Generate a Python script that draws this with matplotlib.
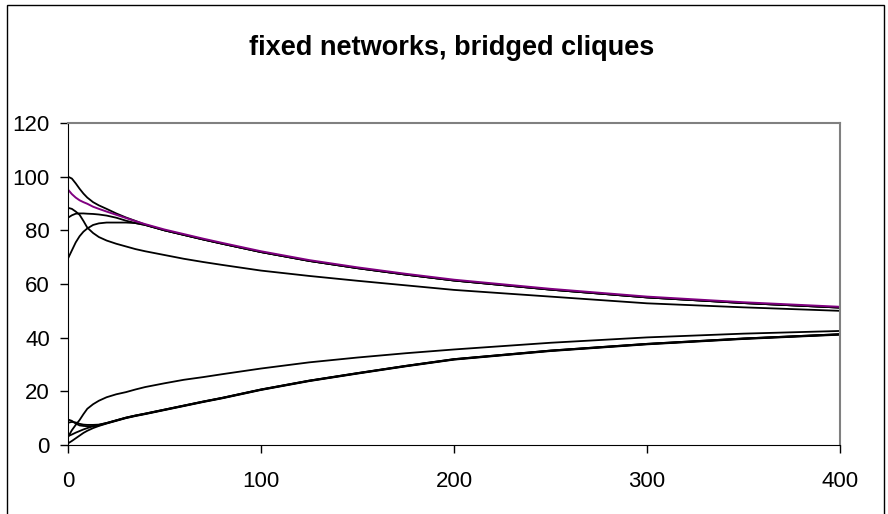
import matplotlib
matplotlib.use("Agg")
import matplotlib.pyplot as plt
from matplotlib.patches import Rectangle

plt.rcParams['font.family'] = ['Liberation Sans', 'DejaVu Sans']

# x values (steps) shared by all series
steps = [0, 2, 4, 6, 8, 10, 13, 16, 20, 25, 30, 35, 40, 50, 60, 70, 80,
         100, 125, 150, 175, 200, 250, 300, 350, 400]

# upper group
purple = [95.2, 93.5, 92.2, 91.2, 90.5, 89.9, 88.8, 88.0, 87.0, 85.8, 84.6, 83.4, 82.3,
          80.3, 78.6, 76.9, 75.3, 72.2, 68.9, 66.2, 63.8, 61.6, 58.2, 55.3, 53.2, 51.5]
up_a = [100.0, 99.3, 97.5, 95.5, 93.7, 92.2, 90.5, 89.3, 88.0, 86.3, 84.8, 83.5, 82.1,
        80.0, 78.3, 76.6, 75.0, 71.9, 68.6, 65.9, 63.5, 61.3, 57.9, 55.0, 52.9, 51.2]
up_b = [88.4, 88.0, 87.0, 85.8, 83.5, 81.0, 79.0, 77.5, 76.2, 75.0, 74.0, 73.0, 72.2,
        70.8, 69.4, 68.2, 67.1, 65.0, 63.0, 61.2, 59.5, 57.8, 55.3, 52.8, 51.3, 50.0]
up_c = [84.7, 85.6, 86.2, 86.3, 86.3, 86.2, 86.1, 85.9, 85.5, 84.7, 83.6, 82.7, 82.0,
        80.0, 78.3, 76.6, 75.0, 71.9, 68.6, 65.9, 63.5, 61.3, 57.9, 55.0, 52.9, 51.2]
up_d = [69.5, 72.5, 75.5, 77.8, 79.5, 80.7, 82.0, 82.6, 82.9, 82.9, 82.9, 82.7, 82.0,
        80.0, 78.3, 76.6, 75.0, 71.9, 68.6, 65.9, 63.5, 61.3, 57.9, 55.0, 52.9, 51.2]

# lower group
low_e = [3.0, 5.5, 7.5, 9.3, 11.5, 13.5, 15.2, 16.5, 17.8, 18.9, 19.7, 20.7, 21.6,
         23.0, 24.3, 25.3, 26.4, 28.5, 30.8, 32.6, 34.2, 35.6, 38.1, 40.1, 41.5, 42.5]
low_f1 = [0.6, 1.5, 2.5, 3.5, 4.5, 5.3, 6.3, 7.1, 8.0, 9.0, 10.0, 10.8, 11.5,
          13.0, 14.5, 16.0, 17.4, 20.5, 23.8, 26.6, 29.3, 31.8, 35.0, 37.5, 39.5, 41.1]
low_f2 = [3.3, 3.9, 4.6, 5.2, 5.8, 6.3, 7.0, 7.5, 8.2, 9.2, 10.2, 11.0, 11.7,
          13.2, 14.7, 16.2, 17.6, 20.7, 24.0, 26.8, 29.5, 32.0, 35.2, 37.7, 39.7, 41.3]
low_f3 = [9.5, 9.0, 8.0, 7.3, 7.1, 7.0, 7.0, 7.3, 8.1, 9.1, 10.1, 10.9, 11.6,
          13.1, 14.6, 16.1, 17.5, 20.6, 23.9, 26.7, 29.4, 31.9, 35.1, 37.6, 39.6, 41.2]
low_f4 = [8.3, 8.6, 8.4, 7.9, 7.6, 7.5, 7.5, 7.6, 8.2, 9.2, 10.2, 11.0, 11.7,
          13.2, 14.7, 16.2, 17.6, 20.7, 24.0, 26.8, 29.5, 32.0, 35.2, 37.7, 39.7, 41.3]

fig = plt.figure(figsize=(8.88, 5.14), dpi=100)
ax = fig.add_axes([68 / 888, 1 - 445 / 514, (840 - 68) / 888, (445 - 123) / 514])

for s in [up_a, up_b, up_c, up_d, low_e, low_f1, low_f2, low_f3, low_f4]:
    ax.plot(steps, s, color='black', lw=1.3)
ax.plot(steps, purple, color='#800080', lw=1.4)

ax.set_xlim(0, 400)
ax.set_ylim(0, 120)
ax.set_xticks([0, 100, 200, 300, 400])
ax.set_yticks(range(0, 121, 20))
ax.tick_params(labelsize=16, length=6, width=1, direction='out')
ax.tick_params(axis='y', pad=7)
ax.tick_params(axis='x', pad=13)
for side in ['top', 'right']:
    ax.spines[side].set_color('#808080')
    ax.spines[side].set_linewidth(1.5)

fig.text(452 / 888, 1 - 48 / 514, 'fixed networks, bridged cliques',
         ha='center', va='center', fontsize=19.5, fontweight='bold')

# outer chart frame
fig.add_artist(Rectangle((7 / 888, -0.05), (884 - 7) / 888, 1.05 - 4.5 / 514,
                         transform=fig.transFigure, fill=False, ec='black', lw=1))

fig.savefig('out.png', dpi=100)
